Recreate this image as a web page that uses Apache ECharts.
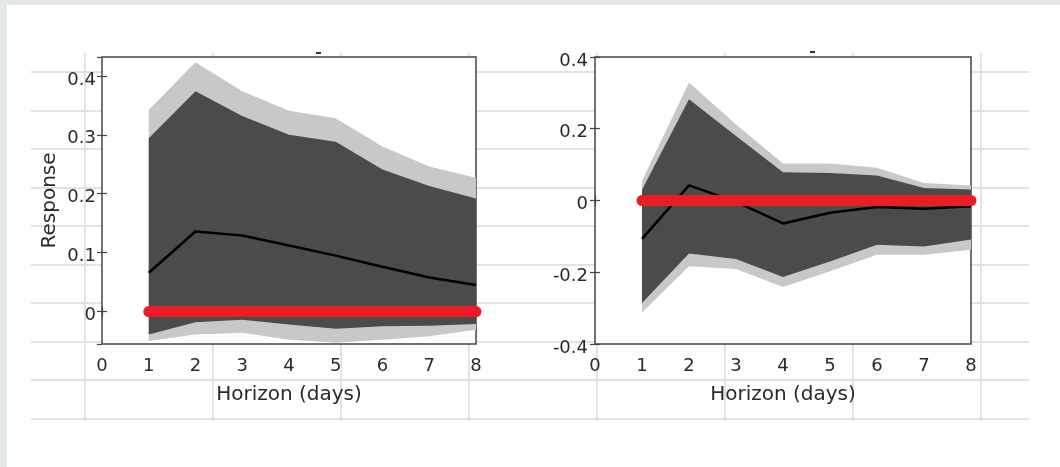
<!DOCTYPE html>
<html>
<head>
<meta charset="utf-8">
<script src="https://cdn.jsdelivr.net/npm/echarts@6/dist/echarts.min.js"></script>
<style>
    html, body { margin: 0; padding: 0; background: #fff; }
    #page { position: absolute; left: 0; top: 0; width: 1060px; height: 467px; background: #fff; overflow: hidden; }
    #frameTop { position: absolute; left: 0; top: 0; width: 1060px; height: 5px; background: #e3e9e6; }
    #frameLeft { position: absolute; left: 0; top: 0; width: 7px; height: 467px; background: #e3e9e6; }
    #chart { position: absolute; left: 0; top: 0; width: 1060px; height: 467px; }
    .hl { position: absolute; height: 2px; background: #e2e2e2; }
    .vl { position: absolute; width: 2px; background: #e2e2e2; }
</style>
</head>
<body>
<div id="page">
    <div id="frameTop"></div>
    <div id="frameLeft"></div>
    <div id="chart"></div>
</div>
<script>
// horizon (days)
var horizon = [1, 2, 3, 4, 5, 6, 7, 8];
var xTicks = [0, 1, 2, 3, 4, 5, 6, 7, 8];

// left panel: bands and median response
var leftOuterUpper = [0.342, 0.423, 0.374, 0.341, 0.328, 0.280, 0.246, 0.227];
var leftInnerUpper = [0.294, 0.374, 0.332, 0.300, 0.288, 0.241, 0.213, 0.192];
var leftMedian     = [0.066, 0.136, 0.129, 0.112, 0.095, 0.076, 0.058, 0.045];
var leftInnerLower = [-0.039, -0.018, -0.014, -0.022, -0.029, -0.025, -0.024, -0.021];
var leftOuterLower = [-0.050, -0.039, -0.036, -0.048, -0.053, -0.048, -0.042, -0.031];

// right panel
var rightOuterUpper = [0.055, 0.329, 0.212, 0.103, 0.103, 0.091, 0.049, 0.042];
var rightInnerUpper = [0.030, 0.282, 0.180, 0.079, 0.077, 0.070, 0.035, 0.031];
var rightMedian     = [-0.107, 0.042, -0.004, -0.064, -0.034, -0.018, -0.023, -0.016];
var rightInnerLower = [-0.286, -0.148, -0.163, -0.213, -0.170, -0.123, -0.128, -0.109];
var rightOuterLower = [-0.312, -0.183, -0.191, -0.241, -0.197, -0.151, -0.151, -0.137];

// zero reference line
var zeroLine = [0, 0];
var zeroSpan = [1, 8];

// spreadsheet lines behind the figure
var sheetRows = [72, 111, 149, 188, 226, 265, 303, 342, 380, 419];
var sheetCols = [85, 213, 341, 469, 597, 725, 853, 981];

var page = document.getElementById('page');
var chartDiv = document.getElementById('chart');
sheetRows.forEach(function (y) {
    var d = document.createElement('div');
    d.className = 'hl';
    d.style.left = '31px'; d.style.width = '998px'; d.style.top = (y - 1) + 'px';
    page.insertBefore(d, chartDiv);
});
sheetCols.forEach(function (x) {
    var d = document.createElement('div');
    d.className = 'vl';
    d.style.left = (x - 1) + 'px'; d.style.top = '53px'; d.style.height = '368px';
    page.insertBefore(d, chartDiv);
});

var FONT = 'DejaVu Sans';
var TXT = '#2a2a2a';
var BOX = '#444';

function pairs(ys) {
    return horizon.map(function (h, i) { return [h, ys[i]]; });
}

// filled band between lower and upper, drawn through the axis scales
function bandSeries(idx, lower, upper, color, z) {
    return {
        type: 'custom', xAxisIndex: idx, yAxisIndex: idx, silent: true, z: z,
        data: [[horizon[0], lower[0], upper[0]]],
        renderItem: function (params, api) {
            var pts = [];
            horizon.forEach(function (h, i) { pts.push(api.coord([h, upper[i]])); });
            for (var i = horizon.length - 1; i >= 0; i--) { pts.push(api.coord([horizon[i], lower[i]])); }
            return {
                type: 'polygon',
                shape: { points: pts },
                style: { fill: color, stroke: null }
            };
        }
    };
}

function panelSeries(idx, oLo, oHi, iLo, iHi, med) {
    return [
        bandSeries(idx, oLo, oHi, '#c8c8c8', 1),
        bandSeries(idx, iLo, iHi, '#4b4b4b', 2),
        {
            type: 'line', xAxisIndex: idx, yAxisIndex: idx, data: pairs(med),
            symbol: 'none', lineStyle: { color: '#000', width: 2.5 }, z: 3
        },
        {
            type: 'line', xAxisIndex: idx, yAxisIndex: idx,
            data: zeroSpan.map(function (x, i) { return [x, zeroLine[i]]; }),
            symbol: 'none', clip: false,
            lineStyle: { color: '#ec1c24', width: 11, cap: 'round' }, z: 4
        }
    ];
}

function tenths(v) {
    var r = Math.round(v * 10);
    if (Math.abs(v * 10 - r) > 1e-6) return '';
    return '{t|' + String(r / 10) + '}';
}

var labelRich = { t: { color: TXT, fontFamily: FONT, fontSize: 18, padding: [8, 0, 0, 0] } };
var tickStyle = { show: true, inside: true, length: 5, lineStyle: { color: BOX, width: 1.2 } };

function xAxes(grid, withName) {
    return [
        {
            type: 'value', gridIndex: grid, min: 0, max: 8, interval: 1, position: 'bottom',
            axisLine: { show: false }, splitLine: { show: false }, axisTick: tickStyle,
            axisLabel: { margin: 13, color: TXT, fontFamily: FONT, fontSize: 18,
                formatter: function (v) { return xTicks.indexOf(v) >= 0 ? String(v) : ''; } },
            name: withName, nameLocation: 'middle', nameGap: 41,
            nameTextStyle: { color: TXT, fontFamily: FONT, fontSize: 20 }
        },
        {
            type: 'value', gridIndex: grid, min: 0, max: 8, interval: 1, position: 'top',
            axisLine: { show: false }, splitLine: { show: false }, axisLabel: { show: false },
            axisTick: tickStyle
        }
    ];
}

var left = xAxes(0, 'Horizon (days)');
var right = xAxes(1, 'Horizon (days)');

var yLeftMain = {
    type: 'value', gridIndex: 0, min: -0.055, max: 0.432, splitNumber: 5, position: 'left',
    axisLine: { show: false }, splitLine: { show: false }, axisTick: tickStyle,
    axisLabel: { margin: 6, showMinLabel: false, showMaxLabel: false, formatter: tenths, rich: labelRich },
    name: 'Response', nameLocation: 'middle', nameGap: 42,
    nameTextStyle: { color: TXT, fontFamily: FONT, fontSize: 20 }
};
var yLeftSide = {
    type: 'value', gridIndex: 0, min: -0.055, max: 0.432, splitNumber: 5, position: 'right',
    axisLine: { show: false }, splitLine: { show: false }, axisLabel: { show: false },
    axisTick: tickStyle
};
var yRightMain = {
    type: 'value', gridIndex: 1, min: -0.4, max: 0.4, interval: 0.2, position: 'left',
    axisLine: { show: false }, splitLine: { show: false }, axisTick: tickStyle,
    axisLabel: { margin: 7, rich: labelRich,
        formatter: function (v) { return '{t|' + String(Math.round(v * 10) / 10) + '}'; } }
};
var yRightSide = {
    type: 'value', gridIndex: 1, min: -0.4, max: 0.4, interval: 0.2, position: 'right',
    axisLine: { show: false }, splitLine: { show: false }, axisLabel: { show: false },
    axisTick: tickStyle
};

var gridStyle = { show: true, backgroundColor: '#fff', borderColor: BOX, borderWidth: 1.5 };

var option = {
    animation: false,
    backgroundColor: 'transparent',
    grid: [
        Object.assign({ left: 102, top: 57, width: 374, height: 287 }, gridStyle),
        Object.assign({ left: 595, top: 57, width: 376, height: 287 }, gridStyle)
    ],
    // xAxis order: 0 left bottom, 1 right bottom, 2 left top, 3 right top
    xAxis: [left[0], right[0], left[1], right[1]],
    yAxis: [yLeftMain, yRightMain, yLeftSide, yRightSide],
    graphic: [
        // leftover marks of the cropped panel titles
        { type: 'rect', shape: { x: 316, y: 52, width: 5, height: 2 }, style: { fill: '#333' } },
        { type: 'rect', shape: { x: 810, y: 51, width: 5, height: 2 }, style: { fill: '#333' } }
    ],
    series: [].concat(
        panelSeries(0, leftOuterLower, leftOuterUpper, leftInnerLower, leftInnerUpper, leftMedian),
        panelSeries(1, rightOuterLower, rightOuterUpper, rightInnerLower, rightInnerUpper, rightMedian)
    )
};

var myChart = echarts.init(chartDiv);
myChart.setOption(option);
</script>
</body>
</html>
